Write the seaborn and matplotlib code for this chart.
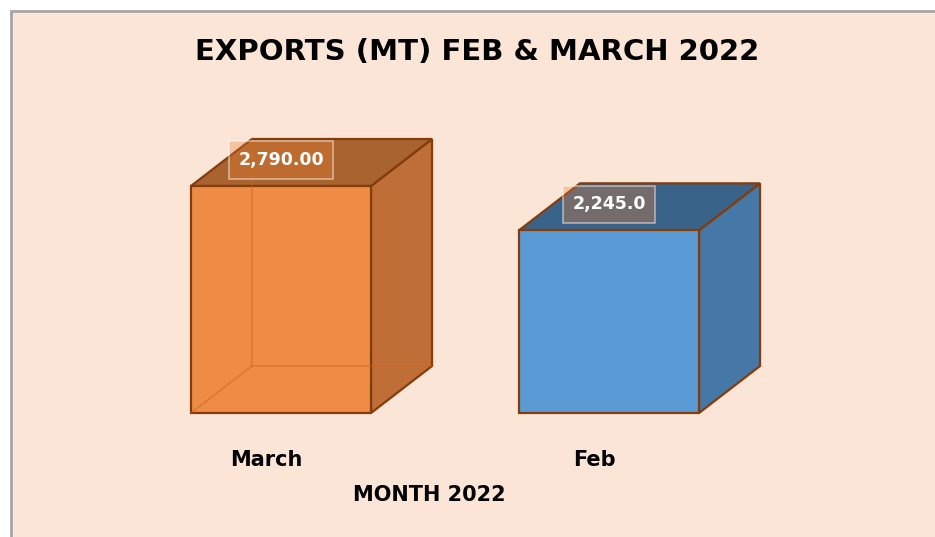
import matplotlib
matplotlib.use("Agg")
import matplotlib.pyplot as plt
import seaborn as sns
import pandas as pd
from matplotlib.patches import Polygon, Rectangle
from matplotlib import transforms

# data
months = ["March", "Feb"]
exports = [2790.00, 2245.0]
value_labels = ["2,790.00", "2,245.0"]

# colours of the 3D faces
front_colors = ["#EE8B44", "#5B9BD5"]
side_colors = ["#C06E38", "#4577A7"]
top_colors = ["#A8632F", "#3A6389"]
see_through = [True, False]
EDGE = "#843C0C"
BG = "#FBE5D6"

df = pd.DataFrame({"month": months, "exports": exports})

sns.set_theme(style="white")
plt.rcParams["font.family"] = ["DejaVu Sans"]

fig = plt.figure(figsize=(9.35, 5.37), dpi=100, facecolor="white")
# peach chart area with a grey border on top/left (behind the axes)
fig.patches.append(Rectangle((11 / 935, -0.02), 1.0, 1.02 - 11 / 537,
                             transform=fig.transFigure, facecolor=BG,
                             edgecolor="#A6A6A6", linewidth=2, zorder=-1))

ax = fig.add_axes([117 / 935, 124 / 537, 656 / 935, 313 / 537])
ax.set_facecolor("none")
sns.barplot(data=df, x="month", y="exports", hue="month", palette=front_colors,
            width=0.549, legend=False, ax=ax, edgecolor=EDGE, linewidth=1.6,
            saturation=1, zorder=3)
ax.set_xlim(-0.5, 1.5)
ax.set_ylim(0, 3847)
ax.set_yticks([])
ax.set_ylabel("")
sns.despine(ax=ax, left=True, bottom=True)

# depth of the boxes, in pixels
dx, dy = 61, 47
to_disp = ax.transData.transform
to_data = ax.transData.inverted().transform


def shifted(x, y):
    px, py = to_disp((x, y))
    return tuple(to_data((px + dx, py + dy)))


for i, bar in enumerate(ax.patches[:len(months)]):
    bar.set_clip_on(False)
    x0, y0 = bar.get_x(), bar.get_y()
    x1, y1 = x0 + bar.get_width(), y0 + bar.get_height()
    side = [(x1, y0), shifted(x1, y0), shifted(x1, y1), (x1, y1)]
    top = [(x0, y1), shifted(x0, y1), shifted(x1, y1), (x1, y1)]
    ax.add_patch(Polygon(side, closed=True, facecolor=side_colors[i],
                         edgecolor=EDGE, linewidth=1.6, zorder=2))
    ax.add_patch(Polygon(top, closed=True, facecolor=top_colors[i],
                         edgecolor=EDGE, linewidth=1.6, zorder=2))
    if see_through[i]:
        # hidden back edges show faintly through the front face
        bx, by = shifted(x0, y0)
        tx, ty = shifted(x0, y1)
        rx, ry = shifted(x1, y0)
        kw = dict(color="#C8651F", alpha=0.45, linewidth=1.3, zorder=4)
        ax.plot([x0, bx], [y0, by], **kw)
        ax.plot([bx, tx], [by, ty], **kw)
        ax.plot([bx, rx], [by, ry], **kw)

    ax.annotate(value_labels[i], (x0 + bar.get_width() / 2, y1),
                xytext=(0, 26), textcoords="offset pixels",
                ha="center", va="center", color="white", fontsize=12.5,
                fontweight="bold", zorder=6,
                bbox=dict(boxstyle="square,pad=0.55",
                          facecolor=(0.93, 0.49, 0.19, 0.32),
                          edgecolor=(1, 1, 1, 0.5), linewidth=1.2))

ax.tick_params(axis="x", length=0, pad=27)
for lbl in ax.get_xticklabels():
    lbl.set_fontsize(15)
    lbl.set_fontweight("bold")
    lbl.set_color("black")
    lbl.set_transform(lbl.get_transform() +
                      transforms.ScaledTranslation(-15 / 100, 0, fig.dpi_scale_trans))

ax.set_xlabel("MONTH 2022", fontsize=15, fontweight="bold", color="black")
ax.xaxis.set_label_coords(312 / 656, -0.262)
ax.xaxis.label.set_va("center")

fig.text(477 / 935, 1 - 52 / 537, "EXPORTS (MT) FEB & MARCH 2022",
         ha="center", va="center", fontsize=21, fontweight="bold", color="black")

fig.savefig("out.png", dpi=100)
